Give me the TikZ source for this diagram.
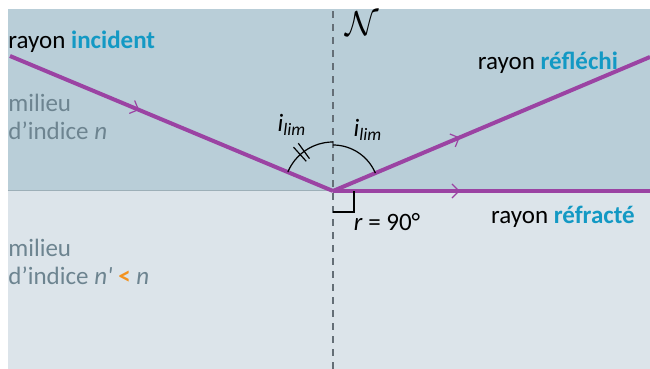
\documentclass[tikz,border=0pt]{standalone}
\usepackage{fontspec}
\setmainfont{Carlito}
\usetikzlibrary{positioning,arrows.meta,calc,decorations.markings}
\definecolor{upmed}{HTML}{B9CED8}
\definecolor{lowmed}{HTML}{DCE4EA}
\definecolor{raypurple}{HTML}{9B43A3}
\definecolor{keyteal}{HTML}{1399C4}
\definecolor{medgray}{HTML}{6D8490}
\definecolor{normgray}{HTML}{646E76}
\definecolor{ltorange}{HTML}{F3921E}

\begin{document}
\begin{tikzpicture}[x=0.5pt,y=0.5pt,font=\fontsize{12.5}{13}\selectfont,>={Straight Barb[length=3.5pt,width=7pt]},
  ray/.style={draw=raypurple,line width=2pt,postaction={decorate},
    decoration={markings,mark=at position 0.4 with {\arrow[line width=0.6pt]{>}}}},
  normal/.style={draw=normgray,line width=0.7pt,dash pattern=on 3.5pt off 3pt},
  anglearc/.style={draw=black,line width=0.6pt},
  lbl/.style={inner sep=0pt,anchor=west,align=left},
  medium/.style={lbl,text=medgray}]
% media
\useasboundingbox (0,0) rectangle (650,369);
\fill[lowmed] (8,0) rectangle (650,178);
\fill[upmed] (8,178) rectangle (650,360);
\draw[upmed!85!black,line width=0.5pt] (8,178) -- (650,178);
% normal
\coordinate (O) at (333,178);
\coordinate (nbot) at (333,0);
\coordinate (ntop) at (333,360);
\draw[normal] (nbot) -- (ntop);
\node[inner sep=0pt,font=\fontsize{19}{19}\selectfont] (N) at (362,345) {$\mathcal{N}$};
% rays
\coordinate (src) at (10,313);
\coordinate (refl) at (650,312);
\coordinate (refr) at (650,178);
\draw[ray] (src) -- (O);
\draw[ray] (O) -- (refl);
\draw[ray] (O) -- (refr);
% angles
\draw[anglearc] ($(O)+(90:49)$) arc[start angle=90,end angle=157.3,radius=49];
\draw[anglearc] ($(O)+(90:46)$) arc[start angle=90,end angle=22.9,radius=46];
\draw[anglearc] ($(O)+(126:40)$) -- ($(O)+(126:59)$);
\draw[anglearc] ($(O)+(132:40)$) -- ($(O)+(132:59)$);
\draw[anglearc] ($(O)+(0,-21)$) -| ($(O)+(21,0)$);
\node[inner sep=0pt] (ileft) at (292,244) {\itshape i\textsubscript{lim}};
\node[inner sep=0pt] (iright) at (368,239) {\itshape i\textsubscript{lim}};
\node[inner sep=0pt] (rangle) at (387,147) {\textit{r} = 90°};
% labels
\node[lbl] (tinc) at (8,327) {rayon \textbf{\color{keyteal}incident}};
\node[lbl,anchor=center] (trefl) at (548,306) {rayon \textbf{\color{keyteal}réfléchi}};
\node[lbl,anchor=center] (trefr) at (563,152) {rayon \textbf{\color{keyteal}réfracté}};
\node[medium] (mtop) at (8,252) {milieu\\[1pt]d’indice \textit{n}};
\node[medium] (mbot) at (8,107) {milieu\\[1pt]d’indice \textit{n\textquotesingle} {\color{ltorange}\textbf{<}} \textit{n}};
\end{tikzpicture}
\end{document}
